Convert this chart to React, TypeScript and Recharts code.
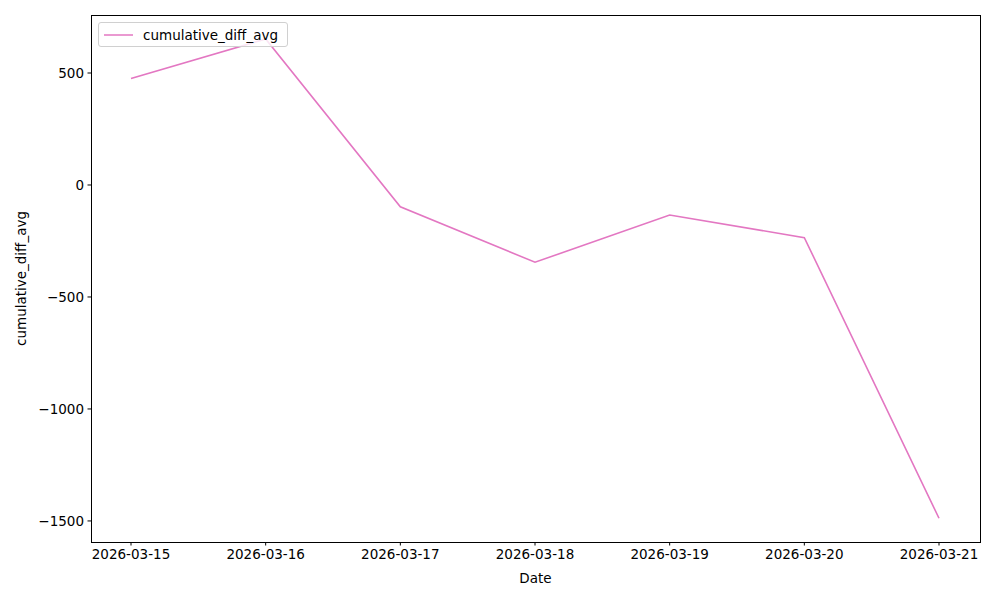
import React from 'react';
import { LineChart, Line, XAxis, YAxis, Label } from 'recharts';

const dates = ['2026-03-15', '2026-03-16', '2026-03-17', '2026-03-18', '2026-03-19', '2026-03-20', '2026-03-21'];
const cumulativeDiffAvg = [475, 652, -97, -345, -134, -235, -1488];
const yTicks = [-1500, -1000, -500, 0, 500];

const data = dates.map((d, i) => ({ date: d, cumulative_diff_avg: cumulativeDiffAvg[i] }));

const FONT = 'DejaVu Sans, sans-serif';
const FS = 13.5;
const PINK = '#e377c2';
const fmt = (v: number) => String(v).replace('-', '\u2212');

const LegendBox = () => (
  <div
    style={{
      position: 'absolute',
      left: 98,
      top: 22,
      width: 188,
      height: 23,
      border: '1px solid #d0d0d0',
      borderRadius: 3,
      background: 'rgba(255,255,255,0.8)',
      fontFamily: FONT,
      fontSize: FS,
      display: 'flex',
      alignItems: 'center',
    }}
  >
    <svg width={40} height={10} style={{ marginLeft: 4 }}>
      <line x1={1} y1={5} x2={30} y2={5} stroke={PINK} strokeWidth={1.5} />
    </svg>
    <span style={{ color: '#000' }}>cumulative_diff_avg</span>
  </div>
);

export default function App() {
  return (
    <div style={{ position: 'absolute', left: 0, top: 0, width: 1000, height: 600, background: '#fff' }}>
      <LineChart width={1000} height={600} data={data} margin={{ top: 15, right: 20, bottom: 0, left: 0 }}>
        <XAxis
          dataKey="date"
          height={58}
          padding={{ left: 40, right: 41 }}
          tickSize={3.5}
          tickMargin={3.5}
          tick={{ fill: '#000', fontSize: FS, fontFamily: FONT }}
          tickLine={{ stroke: '#000' }}
          axisLine={false}
          interval={0}
        >
          <Label value="Date" position="insideBottom" offset={17} style={{ fill: '#000', fontSize: FS, fontFamily: FONT }} />
        </XAxis>
        <YAxis
          width={91}
          domain={[-1594, 759]}
          ticks={yTicks}
          tickFormatter={fmt}
          tickSize={3.5}
          tickMargin={3.5}
          tick={{ fill: '#000', fontSize: FS, fontFamily: FONT }}
          tickLine={{ stroke: '#000' }}
          axisLine={false}
          allowDataOverflow
        >
          <Label
            value="cumulative_diff_avg"
            angle={-90}
            position="insideLeft"
            offset={21}
            style={{ fill: '#000', fontSize: FS, fontFamily: FONT, textAnchor: 'middle' }}
          />
        </YAxis>
        <Line
          type="linear"
          dataKey="cumulative_diff_avg"
          stroke={PINK}
          strokeWidth={1.6}
          dot={false}
          isAnimationActive={false}
        />
      </LineChart>
      {/* plot frame, like matplotlib's spines */}
      <div
        style={{
          position: 'absolute',
          left: 90.5,
          top: 14.5,
          width: 890,
          height: 528,
          boxSizing: 'border-box',
          border: '1px solid #000',
          pointerEvents: 'none',
        }}
      />
      <LegendBox />
    </div>
  );
}
